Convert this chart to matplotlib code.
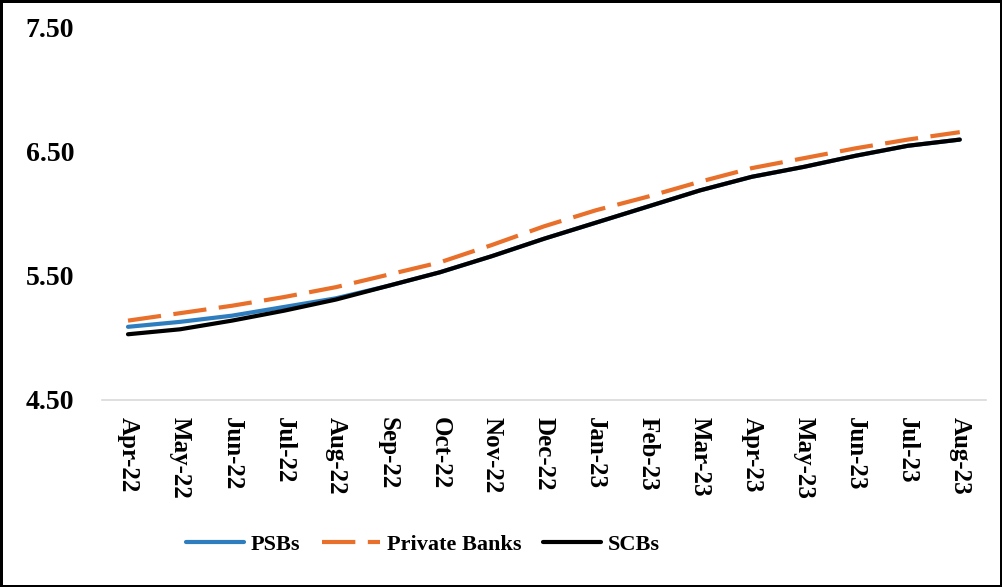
"""Monthly trend lines for PSBs, private banks and SCBs."""
import matplotlib
matplotlib.use('Agg')
import matplotlib.pyplot as plt

months = ['Apr-22', 'May-22', 'Jun-22', 'Jul-22', 'Aug-22', 'Sep-22',
          'Oct-22', 'Nov-22', 'Dec-22', 'Jan-23', 'Feb-23', 'Mar-23',
          'Apr-23', 'May-23', 'Jun-23', 'Jul-23', 'Aug-23']

psbs = [5.09, 5.13, 5.18, 5.25, 5.32, 5.42, 5.53, 5.66, 5.80,
        5.93, 6.06, 6.19, 6.30, 6.38, 6.47, 6.55, 6.60]
private_banks = [5.14, 5.20, 5.26, 5.33, 5.41, 5.51, 5.61, 5.75, 5.90,
                 6.03, 6.14, 6.26, 6.37, 6.45, 6.53, 6.60, 6.66]
scbs = [5.03, 5.07, 5.14, 5.22, 5.31, 5.42, 5.53, 5.66, 5.80,
        5.93, 6.06, 6.19, 6.30, 6.38, 6.47, 6.55, 6.60]

y_ticks = [4.50, 5.50, 6.50, 7.50]

plt.rcParams['font.family'] = ['Liberation Serif', 'DejaVu Serif']
plt.rcParams['font.weight'] = 'bold'

fig = plt.figure(figsize=(10.02, 5.87), dpi=100)
fig.patch.set_edgecolor('black')
fig.patch.set_linewidth(2.5)
ax = fig.add_axes([0.1018, 0.3186, 0.882, 0.6337])

x = range(len(months))
ax.plot(x, psbs, color='#2E7EBF', lw=3, label='PSBs',
        solid_capstyle='round')
ax.plot(x, private_banks, color='#E8702A', lw=3, label='Private Banks',
        dashes=(8, 3))
ax.plot(x, scbs, color='black', lw=3, label='SCBs',
        solid_capstyle='round')

# axis ranges and ticks
ax.set_xlim(-0.5, len(months) - 0.5)
ax.set_ylim(4.5, 7.5)
ax.set_yticks(y_ticks)
ax.set_yticklabels([f'{v:.2f}' for v in y_ticks], fontsize=20,
                   fontweight='bold')
ax.set_xticks(list(x))
ax.set_xticklabels(months, rotation=270, fontsize=18, fontweight='bold',
                   va='top', ha='center')
ax.tick_params(axis='y', length=0, pad=20)
ax.tick_params(axis='x', length=0, pad=12)

for side in ('top', 'right', 'left'):
    ax.spines[side].set_visible(False)
ax.spines['bottom'].set_color('#D9D9D9')
ax.spines['bottom'].set_linewidth(1.2)

fig.legend(loc='center', bbox_to_anchor=(0.422, 0.072), ncol=3,
           frameon=False, prop={'size': 16, 'weight': 'bold'},
           handlelength=2.6, handletextpad=0.3, columnspacing=1.0)

fig.savefig('out.png', dpi=100)
